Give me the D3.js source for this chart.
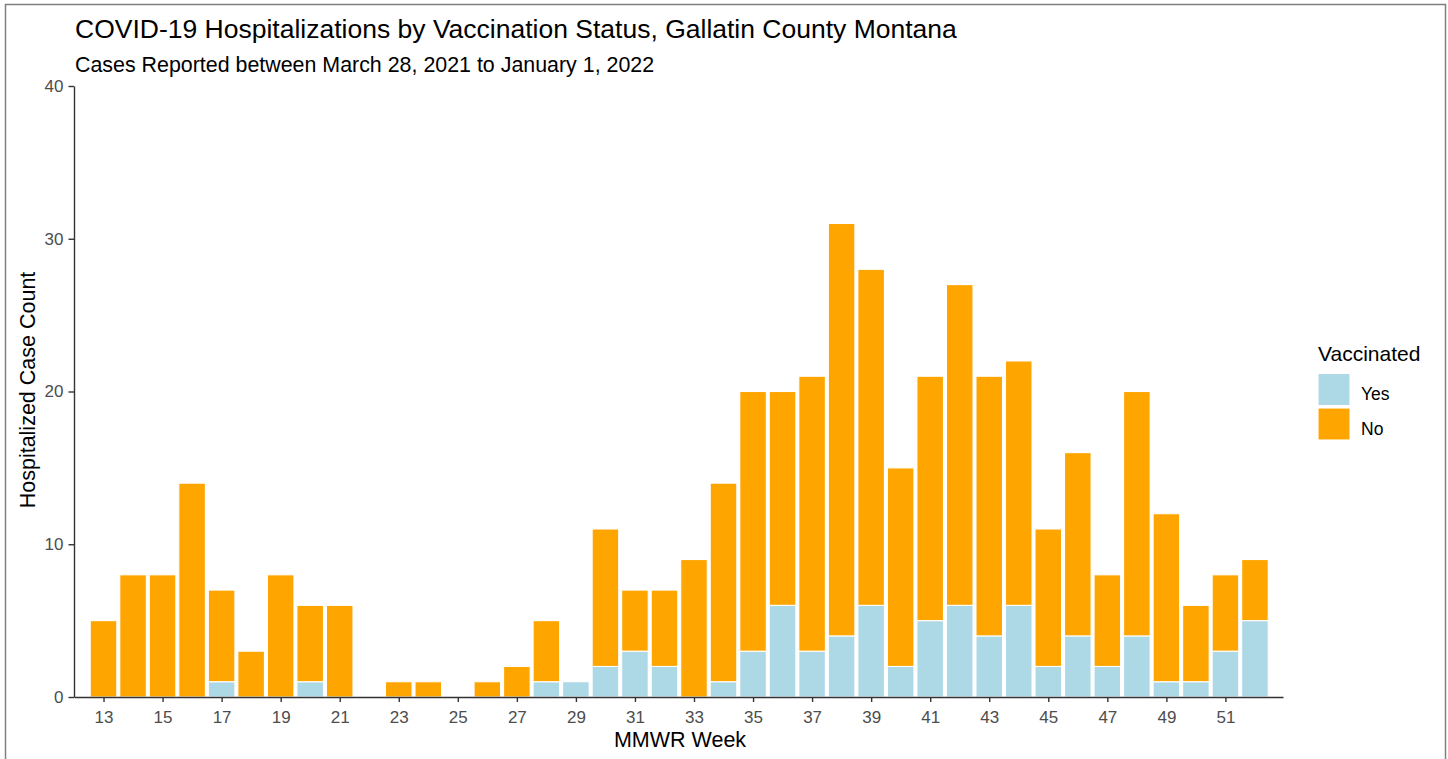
<!DOCTYPE html>
<html>
<head>
<meta charset="utf-8">
<script src="https://cdn.jsdelivr.net/npm/d3@7"></script>
<style>
  body { margin: 0; background: #fff; }
  svg { font-family: "Liberation Sans", Arial, sans-serif; display: block; }
</style>
</head>
<body>
<svg id="chart"></svg>
<script>
// MMWR weeks and hospitalized counts
const weeks = [13, 14, 15, 16, 17, 18, 19, 20, 21, 22, 23, 24, 25, 26, 27, 28, 29, 30, 31, 32,
               33, 34, 35, 36, 37, 38, 39, 40, 41, 42, 43, 44, 45, 46, 47, 48, 49, 50, 51, 52];
const vaccinatedYes = [0, 0, 0, 0, 1, 0, 0, 1, 0, 0, 0, 0, 0, 0, 0, 1, 1, 2, 3, 2,
                       0, 1, 3, 6, 3, 4, 6, 2, 5, 6, 4, 6, 2, 4, 2, 4, 1, 1, 3, 5];
const vaccinatedNo = [5, 8, 8, 14, 6, 3, 8, 5, 6, 0, 1, 1, 0, 1, 2, 4, 0, 9, 4, 5,
                      9, 13, 17, 14, 18, 27, 22, 13, 16, 21, 17, 16, 9, 12, 6, 16, 11, 5, 5, 4];
const statusKeys = ["Yes", "No"];
const statusColors = ["#ADD8E6", "#FFA500"];
const xTicks = [13, 15, 17, 19, 21, 23, 25, 27, 29, 31, 33, 35, 37, 39, 41, 43, 45, 47, 49, 51];
const yTicks = [0, 10, 20, 30, 40];

const width = 1448, height = 759;
const svg = d3.select("#chart").attr("width", width).attr("height", height);

// outer frame
svg.append("rect")
    .attr("x", 5.5).attr("y", 4.5)
    .attr("width", 1440).attr("height", 760)
    .attr("fill", "none")
    .attr("stroke", "#808080")
    .attr("stroke-width", 1.5);

const plotLeft = 74, plotRight = 1283, plotTop = 86, plotBottom = 697;

const x = d3.scaleLinear().domain([12.0, 52.95]).range([plotLeft, plotRight]);
const y = d3.scaleLinear().domain([0, 40]).range([plotBottom, plotTop]);
const color = d3.scaleOrdinal().domain(statusKeys).range(statusColors);

const rows = weeks.map((w, i) => ({ week: w, Yes: vaccinatedYes[i], No: vaccinatedNo[i] }));
const stacked = d3.stack().keys(statusKeys)(rows);

const step = x(1) - x(0);
const barW = step * 0.9;

// bars
svg.append("g")
  .selectAll("g")
  .data(stacked)
  .join("g")
    .attr("fill", d => color(d.key))
  .selectAll("rect")
  .data(d => d.filter(s => s[1] - s[0] > 0))
  .join("rect")
    .attr("x", d => x(d.data.week) - barW / 2)
    .attr("y", d => y(d[1]))
    .attr("width", barW)
    .attr("height", d => y(d[0]) - y(d[1]))
    .attr("stroke", "white")
    .attr("stroke-width", 1.1);

// axes
const xAxis = svg.append("g")
    .attr("transform", `translate(0,${plotBottom})`)
    .call(d3.axisBottom(x).tickValues(xTicks).tickSize(5).tickPadding(8.5).tickSizeOuter(0));
const yAxis = svg.append("g")
    .attr("transform", `translate(${plotLeft},0)`)
    .call(d3.axisLeft(y).tickValues(yTicks).tickSize(5.5).tickPadding(5).tickSizeOuter(0));

[xAxis, yAxis].forEach(a => {
  a.select(".domain").attr("stroke", "#333").attr("stroke-width", 1.4);
  a.selectAll(".tick line").attr("stroke", "#333").attr("stroke-width", 1.4);
  a.selectAll(".tick text").attr("fill", "#4D4D4D").attr("font-size", "17px")
      .attr("font-family", "Liberation Sans, Arial, sans-serif");
});

// titles
svg.append("text")
    .attr("x", 75).attr("y", 37.5)
    .attr("font-size", "26.5px")
    .attr("fill", "#000")
    .text("COVID-19 Hospitalizations by Vaccination Status, Gallatin County Montana");

svg.append("text")
    .attr("x", 75).attr("y", 71.5)
    .attr("font-size", "21.4px")
    .attr("fill", "#000")
    .text("Cases Reported between March 28, 2021 to January 1, 2022");

svg.append("text")
    .attr("x", 680).attr("y", 747)
    .attr("text-anchor", "middle")
    .attr("font-size", "21.5px")
    .attr("fill", "#000")
    .text("MMWR Week");

svg.append("text")
    .attr("transform", `translate(35,390) rotate(-90)`)
    .attr("text-anchor", "middle")
    .attr("font-size", "21.5px")
    .attr("fill", "#000")
    .text("Hospitalized Case Count");

// legend
const legend = svg.append("g").attr("transform", "translate(1318,0)");
legend.append("text")
    .attr("x", 0).attr("y", 361)
    .attr("font-size", "21px")
    .attr("fill", "#000")
    .text("Vaccinated");

const items = legend.selectAll("g.item")
  .data(statusKeys)
  .join("g")
    .attr("class", "item")
    .attr("transform", (d, i) => `translate(0,${373.5 + i * 34.5})`);
items.append("rect")
    .attr("width", 32).attr("height", 32)
    .attr("fill", d => color(d))
    .attr("stroke", "white")
    .attr("stroke-width", 1.1);
items.append("text")
    .attr("x", 43).attr("y", 26.5)
    .attr("font-size", "17.5px")
    .attr("fill", "#000")
    .text(d => d);
</script>
</body>
</html>
